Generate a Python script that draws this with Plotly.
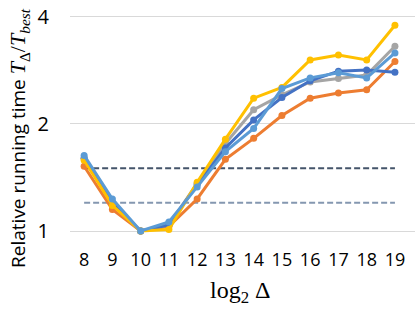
import plotly.graph_objects as go

log2_delta = [8, 9, 10, 11, 12, 13, 14, 15, 16, 17, 18, 19]

series_orange = [1.52, 1.15, 1.0, 1.03, 1.23, 1.59, 1.82, 2.11, 2.36, 2.44, 2.49, 2.99]
series_gray = [1.60, 1.20, 1.0, 1.04, 1.36, 1.76, 2.19, 2.41, 2.62, 2.68, 2.74, 3.30]
series_darkblue = [1.60, 1.20, 1.0, 1.04, 1.35, 1.71, 2.05, 2.37, 2.64, 2.81, 2.83, 2.79]
series_yellow = [1.58, 1.18, 1.0, 1.01, 1.37, 1.81, 2.36, 2.53, 3.02, 3.12, 3.02, 3.78]
series_lightblue = [1.63, 1.23, 1.0, 1.06, 1.33, 1.67, 1.94, 2.51, 2.69, 2.78, 2.69, 3.16]

ref_x = [8, 19]
ref_high = 1.5
ref_low = 1.2

y_ticks = [1, 2, 4]

fig = go.Figure()

# reference levels (dashed)
fig.add_trace(go.Scatter(x=ref_x, y=[ref_high, ref_high], mode='lines',
                         line=dict(color='#44546A', width=2, dash='6px,3px')))
fig.add_trace(go.Scatter(x=ref_x, y=[ref_low, ref_low], mode='lines',
                         line=dict(color='#8497B0', width=2, dash='6px,3px')))

for vals, color in [
    (series_orange, '#ED7D31'),
    (series_gray, '#A5A5A5'),
    (series_darkblue, '#4472C4'),
    (series_yellow, '#FFC000'),
    (series_lightblue, '#5B9BD5'),
]:
    fig.add_trace(go.Scatter(
        x=log2_delta, y=vals, mode='lines+markers',
        line=dict(color=color, width=3),
        marker=dict(color=color, size=7),
    ))

serif = "font-family:'Liberation Serif','DejaVu Serif',serif"
y_title = ("Relative running time "
           f"<span style=\"{serif};font-size:22px\"><i>T</i><sub>Δ</sub>/<i>T</i><sub><i>best</i></sub></span>")
x_title = f"<span style=\"{serif}\">log<sub>2</sub> Δ</span>"

fig.add_annotation(text=y_title, xref='paper', yref='paper', x=-0.148, y=0.4386,
                   xanchor='center', yanchor='middle', textangle=-90, showarrow=False,
                   font=dict(size=19))
fig.add_annotation(text=x_title, xref='paper', yref='paper', x=0.4928, y=-0.2368,
                   xanchor='center', yanchor='middle', showarrow=False,
                   font=dict(size=24))

fig.update_layout(
    width=415, height=312,
    paper_bgcolor='white', plot_bgcolor='white',
    margin=dict(l=70, r=0, t=10, b=74),
    showlegend=False,
    font=dict(family='Open Sans, Lato, sans-serif', size=18, color='#000000'),
    xaxis=dict(
        range=[7.5, 19.71],
        tickvals=log2_delta,
        showgrid=False, zeroline=False, showline=False,
        tickfont=dict(size=18),
        ticklabelstandoff=9,
    ),
    yaxis=dict(
        type='log',
        range=[-0.0196, 0.6203],
        tickvals=y_ticks,
        showgrid=True, gridcolor='#D9D9D9', gridwidth=1,
        zeroline=False, showline=False,
        tickfont=dict(size=20),
        ticks='', ticklen=0,
        ticklabelstandoff=20,
    ),
)

fig.write_html("out.html", config={'displayModeBar': False},
               post_script="document.body.style.margin='0';")
